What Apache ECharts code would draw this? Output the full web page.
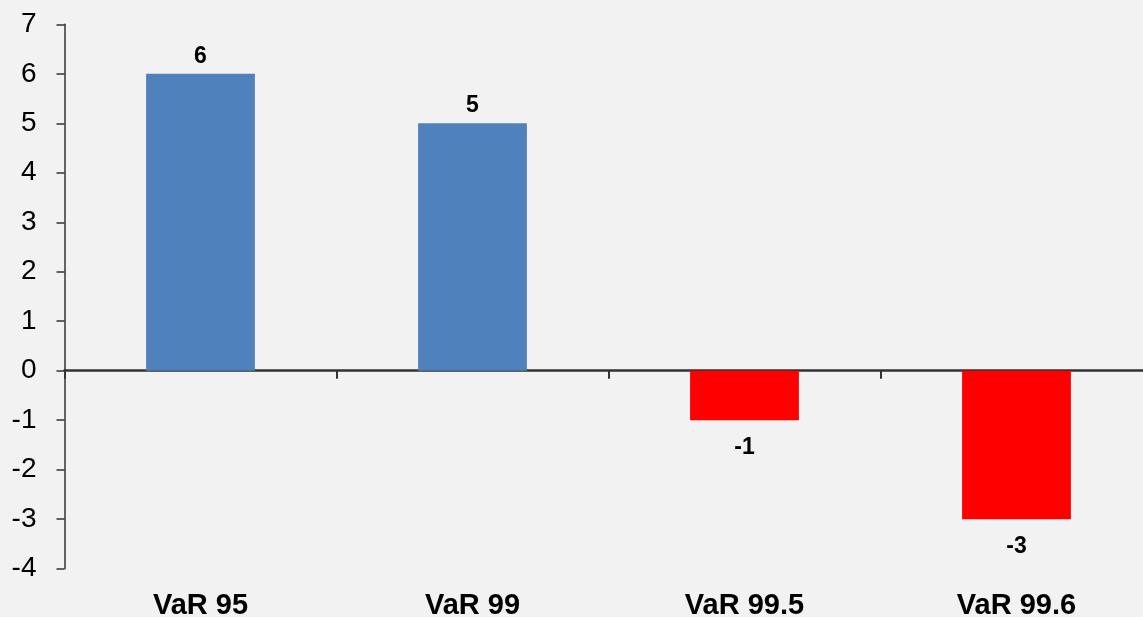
<!DOCTYPE html>
<html>
<head>
<meta charset="utf-8">
<script src="https://cdn.jsdelivr.net/npm/echarts@6/dist/echarts.min.js"></script>
<style>
  html, body { margin: 0; padding: 0; background: #f2f2f2; }
  #chart { width: 1143px; height: 617px; }
</style>
</head>
<body>
<div id="chart"></div>
<script>
const categories = ['VaR 95', 'VaR 99', 'VaR 99.5', 'VaR 99.6'];
const values = [6, 5, -1, -3];
const yTicks = { min: -4, max: 7, interval: 1 };

var chart = echarts.init(document.getElementById('chart'));

// positive bars blue with label on top, negative bars red with label below
const barData = values.map(function (v) {
  return {
    value: v,
    itemStyle: { color: v >= 0 ? '#4f81bd' : '#ff0000' },
    label: v >= 0 ? { position: 'top', distance: 6 } : { position: 'bottom', distance: 16 }
  };
});

chart.setOption({
  backgroundColor: '#f2f2f2',
  animation: false,
  // plot area runs a bit past the right edge of the canvas, like the original
  grid: { left: 64.5, width: 1088, top: 24.3, height: 544.4, outerBoundsMode: 'none', containLabel: false },
  xAxis: [{
    type: 'category',
    data: categories,
    axisLine: { show: true, onZero: true, lineStyle: { color: '#333', width: 2.5 } },
    axisTick: { show: true, length: 8, lineStyle: { color: '#333', width: 2 } },
    axisLabel: { show: false },
    splitLine: { show: false }
  }, {
    type: 'category',
    data: categories,
    position: 'bottom',
    axisLine: { show: false, onZero: false },
    axisTick: { show: false },
    axisLabel: {
      color: '#000',
      fontSize: 29,
      fontWeight: 'bold',
      fontFamily: '"Liberation Sans", Arial, sans-serif',
      margin: 23
    }
  }],
  yAxis: {
    type: 'value',
    min: yTicks.min,
    max: yTicks.max,
    interval: yTicks.interval,
    axisLine: { show: true, lineStyle: { color: '#333', width: 1.5 } },
    axisTick: { show: true, length: 8, lineStyle: { color: '#333', width: 1.5 } },
    axisLabel: {
      color: '#000',
      fontSize: 28,
      fontFamily: '"Liberation Sans", Arial, sans-serif',
      margin: 28
    },
    splitLine: { show: false }
  },
  series: [{
    type: 'bar',
    xAxisIndex: 0,
    barWidth: '40%',
    data: barData,
    label: {
      show: true,
      color: '#000',
      fontSize: 23,
      fontWeight: 'bold',
      fontFamily: '"Liberation Sans", Arial, sans-serif'
    }
  }]
});
</script>
</body>
</html>
